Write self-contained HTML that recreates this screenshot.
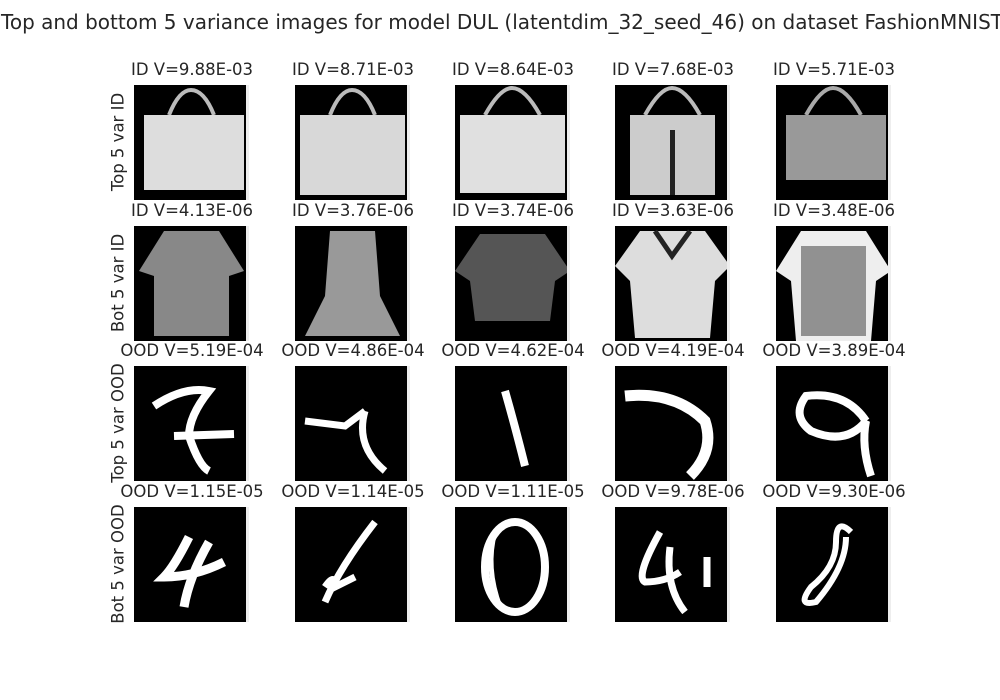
<!DOCTYPE html>
<html><head><meta charset="utf-8"><style>
body{margin:0;background:#fff;width:1000px;height:700px;overflow:hidden;position:relative;font-family:"DejaVu Sans","Liberation Sans",sans-serif;color:#262626}
.t{position:absolute;font-size:20px;white-space:nowrap;transform:translateX(-50%)}
.st{position:absolute;font-size:16.5px;white-space:nowrap;transform:translateX(-50%)}
.yl{position:absolute;font-size:16.5px;white-space:nowrap;transform:translate(-50%,-50%) rotate(-90deg)}
svg.im{position:absolute;width:115px;height:115px;background:#000}
</style></head><body>
<div class="t" style="left:502px;top:10px">Top and bottom 5 variance images for model DUL (latentdim_32_seed_46) on dataset FashionMNIST</div>
<div id="grid"></div>
<script>
const rowLabels=["Top 5 var ID","Bot 5 var ID","Top 5 var OOD","Bot 5 var OOD"];
const titles=[
["ID V=9.88E-03","ID V=8.71E-03","ID V=8.64E-03","ID V=7.68E-03","ID V=5.71E-03"],
["ID V=4.13E-06","ID V=3.76E-06","ID V=3.74E-06","ID V=3.63E-06","ID V=3.48E-06"],
["OOD V=5.19E-04","OOD V=4.86E-04","OOD V=4.62E-04","OOD V=4.19E-04","OOD V=3.89E-04"],
["OOD V=1.15E-05","OOD V=1.14E-05","OOD V=1.11E-05","OOD V=9.78E-06","OOD V=9.30E-06"]];
const colX=[134,295,455,615,776], rowY=[85,226,366,507];
const shapes=[
['<path d="M35 30 Q45 5 57 5 Q70 5 80 30" stroke="#bbb" stroke-width="4" fill="none"/><rect x="10" y="30" width="100" height="75" fill="#ddd"/>',
 '<path d="M35 30 Q45 5 57 5 Q70 5 80 30" stroke="#bbb" stroke-width="4" fill="none"/><rect x="5" y="30" width="105" height="80" fill="#d8d8d8"/>',
 '<path d="M30 30 Q45 3 57 3 Q70 3 85 30" stroke="#bbb" stroke-width="4" fill="none"/><rect x="5" y="30" width="105" height="78" fill="#e0e0e0"/>',
 '<path d="M30 30 Q45 3 57 3 Q70 3 85 30" stroke="#bbb" stroke-width="4" fill="none"/><rect x="15" y="30" width="85" height="80" fill="#ccc"/><rect x="55" y="45" width="5" height="65" fill="#222"/>',
 '<path d="M30 30 Q45 3 57 3 Q70 3 85 30" stroke="#aaa" stroke-width="4" fill="none"/><rect x="10" y="30" width="100" height="65" fill="#999"/>'],
['<path d="M30 5 L85 5 L110 45 L95 50 L95 110 L20 110 L20 50 L5 45Z" fill="#888"/>',
 '<path d="M35 5 L80 5 L85 70 L105 110 L10 110 L30 70Z" fill="#999"/>',
 '<path d="M25 8 L90 8 L115 45 L100 55 L95 95 L20 95 L15 55 L0 45Z" fill="#555"/>',
 '<path d="M25 5 L90 5 L115 40 L100 55 L95 112 L20 112 L15 55 L0 40Z" fill="#ddd"/><path d="M40 5 L57 30 L75 5" stroke="#222" stroke-width="5" fill="none"/>',
 '<path d="M25 5 L90 5 L115 45 L100 55 L95 115 L20 115 L15 55 L0 45Z" fill="#eee"/><rect x="25" y="20" width="65" height="90" fill="#333" opacity=".5"/>'],
['<path d="M20 40 Q50 20 75 25 Q55 50 55 70 Q65 100 75 105 M40 70 L100 68" stroke="#fff" stroke-width="8" fill="none"/>',
 '<path d="M10 55 L50 60 L70 45 M70 45 Q60 80 90 105" stroke="#fff" stroke-width="7" fill="none"/>',
 '<path d="M50 25 Q60 60 70 100" stroke="#fff" stroke-width="8" fill="none"/>',
 '<path d="M10 30 Q60 25 90 55 Q100 85 75 110" stroke="#fff" stroke-width="11" fill="none"/>',
 '<path d="M90 55 Q70 25 30 30 Q15 50 35 65 Q70 80 90 55 Q85 80 95 110" stroke="#fff" stroke-width="8" fill="none"/>'],
['<path d="M55 30 Q40 60 30 70 Q60 70 90 55 M75 35 Q55 70 50 100" stroke="#fff" stroke-width="9" fill="none"/>',
 '<path d="M80 15 Q45 60 30 95 M30 80 Q40 65 40 80 Q50 75 60 70" stroke="#fff" stroke-width="7" fill="none"/>',
 '<ellipse cx="60" cy="60" rx="30" ry="45" stroke="#fff" stroke-width="8" fill="none"/><path d="M40 25 Q30 60 45 100" stroke="#fff" stroke-width="5" fill="none"/>',
 '<path d="M45 25 Q20 70 30 75 Q50 75 65 65 M55 40 Q50 80 70 105 M92 50 L92 80" stroke="#fff" stroke-width="7" fill="none"/>',
 '<path d="M75 25 Q60 10 60 35 Q60 60 35 80 Q20 100 40 95 Q70 60 70 30" stroke="#fff" stroke-width="6" fill="none"/>']];
const g=document.getElementById('grid');
rowLabels.forEach((lab,r)=>{
  const y=document.createElement('div');
  
  
  y.className='yl';y.textContent=lab;y.style.left='118px';y.style.top=(rowY[r]+57)+'px';
  g.appendChild(y);
  colX.forEach((x,c)=>{
    const t=document.createElement('div');
    
    
    t.className='st';t.textContent=titles[r][c];t.style.left=(x+58)+'px';t.style.top=(rowY[r]-25)+'px';
    g.appendChild(t);
    const s=document.createElementNS('http://www.w3.org/2000/svg','svg');
    
    
    s.setAttribute('class','im');s.setAttribute('viewBox','0 0 115 115');
    s.style.left=x+'px';s.style.top=rowY[r]+'px';
    s.innerHTML=shapes[r][c]+'<rect x="112" y="0" width="3" height="115" fill="#eee"/>';
    g.appendChild(s);
  });
});
</script>
</body></html>
